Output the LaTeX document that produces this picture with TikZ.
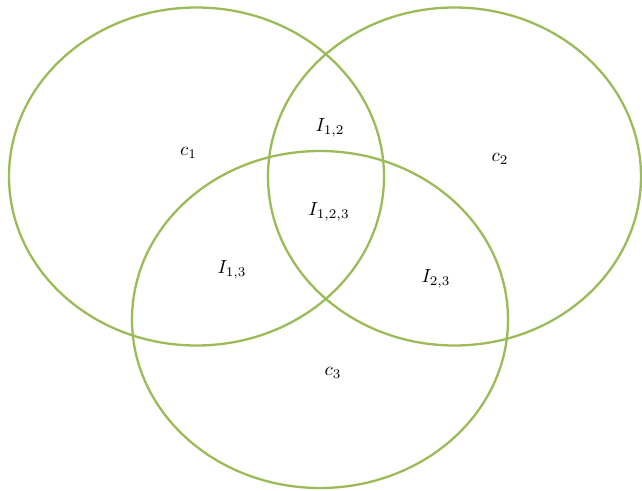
\documentclass[tikz,border=0pt]{standalone}
\usepackage{graphicx}
\usepackage{tikz}
\usepackage{amsmath}
\usepackage{xcolor}
\definecolor{setgreen}{HTML}{9BBB59}
\newcommand{\setlbl}[1]{\scalebox{1.9}{$#1$}}

\begin{document}
\begin{tikzpicture}[x=1pt, y=1pt,
  setline/.style={draw=setgreen, line width=2.3pt},
  setlabel/.style={inner sep=0pt}
]
  \useasboundingbox (0,0) rectangle (642,490);
  % the three sets
  \draw[setline] (196.5,313.5) ellipse [x radius=187.5, y radius=169];
  \draw[setline] (454.5,313.5) ellipse [x radius=186.5, y radius=169];
  \draw[setline] (320,170.5) ellipse [x radius=188, y radius=168.5];
  % labels
  \node[setlabel] (c1) at (188.5,337) {\setlbl{c_1}};
  \node[setlabel] (c2) at (500,331) {\setlbl{c_2}};
  \node[setlabel] (c3) at (333,117) {\setlbl{c_3}};
  \node[setlabel] (i12) at (330,362) {\setlbl{I_{1,2}}};
  \node[setlabel] (i123) at (329,278) {\setlbl{I_{1,2,3}}};
  \node[setlabel] (i13) at (232,220) {\setlbl{I_{1,3}}};
  \node[setlabel] (i23) at (436,211) {\setlbl{I_{2,3}}};
\end{tikzpicture}
\end{document}
